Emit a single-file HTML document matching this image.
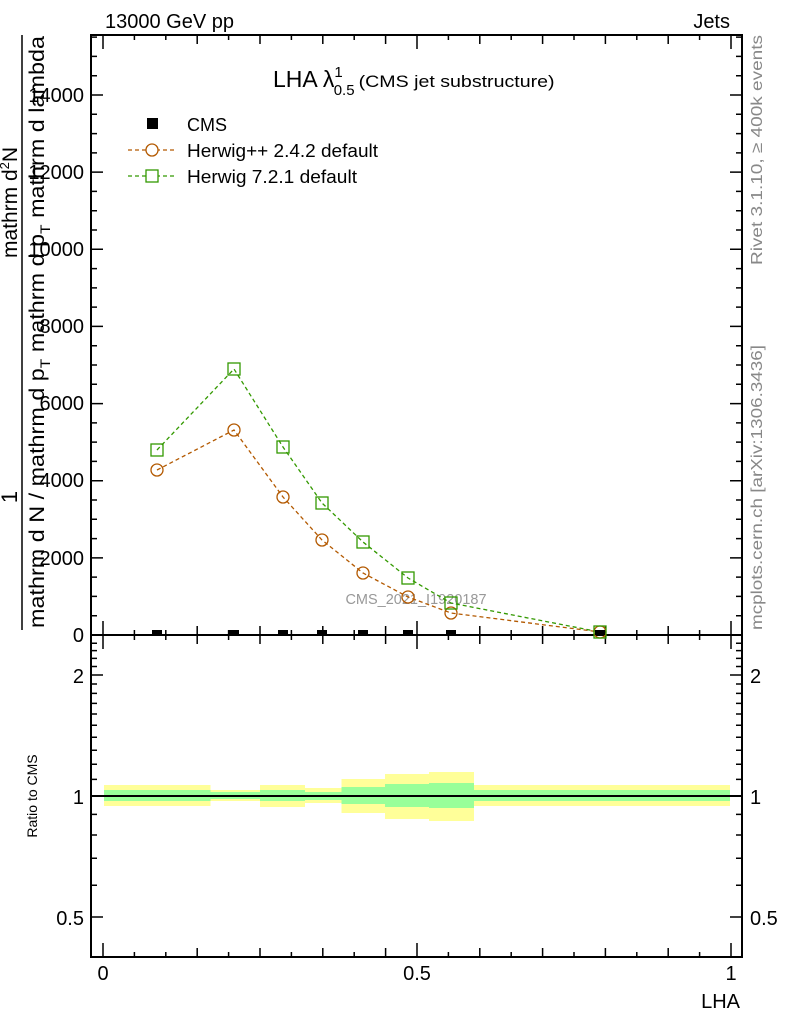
<!DOCTYPE html>
<html><head><meta charset="utf-8"><style>
html,body{margin:0;padding:0;background:#fff;}
svg{display:block;font-family:"Liberation Sans",sans-serif;}
</style></head><body>
<svg width="786" height="1024" viewBox="0 0 786 1024" xmlns="http://www.w3.org/2000/svg">
<rect width="786" height="1024" fill="#fff"/>
<text x="105" y="28" font-size="20">13000 GeV pp</text>
<text x="730" y="28" font-size="20" text-anchor="end">Jets</text>

<!-- ratio bands -->
<g>
<rect x="104" y="785" width="106.5" height="21" fill="#ffff99"/>
<rect x="210.5" y="790" width="49.5" height="11" fill="#ffff99"/>
<rect x="260" y="785" width="45" height="22" fill="#ffff99"/>
<rect x="305" y="788" width="36.5" height="15" fill="#ffff99"/>
<rect x="341.5" y="779" width="43.5" height="34" fill="#ffff99"/>
<rect x="385" y="774" width="44" height="45" fill="#ffff99"/>
<rect x="429" y="772" width="45" height="49" fill="#ffff99"/>
<rect x="474" y="785" width="256" height="21" fill="#ffff99"/>
<rect x="104" y="790" width="106.5" height="11" fill="#99ff99"/>
<rect x="210.5" y="792" width="49.5" height="7" fill="#99ff99"/>
<rect x="260" y="790" width="45" height="11" fill="#99ff99"/>
<rect x="305" y="792" width="36.5" height="8" fill="#99ff99"/>
<rect x="341.5" y="787" width="43.5" height="17" fill="#99ff99"/>
<rect x="385" y="784" width="44" height="23" fill="#99ff99"/>
<rect x="429" y="783" width="45" height="25" fill="#99ff99"/>
<rect x="474" y="790" width="256" height="11" fill="#99ff99"/>
<line x1="91" y1="796" x2="742" y2="796" stroke="#000" stroke-width="2"/>
</g>

<!-- frames -->
<rect x="91" y="35" width="651" height="600" fill="none" stroke="#000" stroke-width="2"/>
<rect x="91" y="635" width="651" height="322" fill="none" stroke="#000" stroke-width="2"/>

<!-- x ticks -->
<g stroke="#000" stroke-width="1.5" fill="none">
<path d="M103 635v-14M134.4 635v-5M165.8 635v-5M197.2 635v-9M228.6 635v-5M260 635v-9M291.4 635v-5M322.8 635v-9M354.2 635v-5M385.6 635v-9M417 635v-14M448.4 635v-5M479.8 635v-9M511.2 635v-5M542.6 635v-9M574 635v-5M605.4 635v-9M636.8 635v-5M668.2 635v-9M699.6 635v-5M731 635v-14"/>
<path d="M103 35v14M134.4 35v5M165.8 35v5M197.2 35v9M228.6 35v5M260 35v9M291.4 35v5M322.8 35v9M354.2 35v5M385.6 35v9M417 35v14M448.4 35v5M479.8 35v9M511.2 35v5M542.6 35v9M574 35v5M605.4 35v9M636.8 35v5M668.2 35v9M699.6 35v5M731 35v14"/>
<path d="M103 957v-14M134.4 957v-5M165.8 957v-5M197.2 957v-9M228.6 957v-5M260 957v-9M291.4 957v-5M322.8 957v-9M354.2 957v-5M385.6 957v-9M417 957v-14M448.4 957v-5M479.8 957v-9M511.2 957v-5M542.6 957v-9M574 957v-5M605.4 957v-9M636.8 957v-5M668.2 957v-9M699.6 957v-5M731 957v-14"/>
<path d="M103 635v14M134.4 635v5M165.8 635v5M197.2 635v9M228.6 635v5M260 635v9M291.4 635v5M322.8 635v9M354.2 635v5M385.6 635v9M417 635v14M448.4 635v5M479.8 635v9M511.2 635v5M542.6 635v9M574 635v5M605.4 635v9M636.8 635v5M668.2 635v9M699.6 635v5M731 635v14"/>
<!-- main y ticks -->
<path d="M91 615.7h6M91 596.4h6M91 577.1h6M91 557.9h12M91 538.6h6M91 519.3h6M91 500h6M91 480.7h12M91 461.4h6M91 442.1h6M91 422.9h6M91 403.6h12M91 384.3h6M91 365h6M91 345.7h6M91 326.4h12M91 307.1h6M91 287.9h6M91 268.6h6M91 249.3h12M91 230h6M91 210.7h6M91 191.4h6M91 172.1h12M91 152.9h6M91 133.6h6M91 114.3h6M91 95h12M91 75.7h6M91 56.4h6M91 37.1h6"/>
<path d="M742 615.7h-6M742 596.4h-6M742 577.1h-6M742 557.9h-12M742 538.6h-6M742 519.3h-6M742 500h-6M742 480.7h-12M742 461.4h-6M742 442.1h-6M742 422.9h-6M742 403.6h-12M742 384.3h-6M742 365h-6M742 345.7h-6M742 326.4h-12M742 307.1h-6M742 287.9h-6M742 268.6h-6M742 249.3h-12M742 230h-6M742 210.7h-6M742 191.4h-6M742 172.1h-12M742 152.9h-6M742 133.6h-6M742 114.3h-6M742 95h-12M742 75.7h-6M742 56.4h-6M742 37.1h-6"/>
<!-- ratio y ticks -->
<path d="M91 917h12M91 885.2h6M91 858.3h6M91 835h6M91 814.4h6M91 796h12M91 779.4h6M91 764.2h6M91 750.2h6M91 737.3h6M91 725.2h6M91 714h6M91 703.4h6M91 693.4h6M91 684h6M91 675h12M91 666.5h6M91 658.4h6M91 650.6h6M91 643.2h6"/>
<path d="M742 917h-12M742 885.2h-6M742 858.3h-6M742 835h-6M742 814.4h-6M742 796h-12M742 779.4h-6M742 764.2h-6M742 750.2h-6M742 737.3h-6M742 725.2h-6M742 714h-6M742 703.4h-6M742 693.4h-6M742 684h-6M742 675h-12M742 666.5h-6M742 658.4h-6M742 650.6h-6M742 643.2h-6"/>
</g>

<!-- main y labels -->
<g font-size="20" text-anchor="end">
<text x="84" y="642">0</text>
<text x="84" y="565">2000</text>
<text x="84" y="487">4000</text>
<text x="84" y="410">6000</text>
<text x="84" y="333">8000</text>
<text x="84" y="256">10000</text>
<text x="84" y="179">12000</text>
<text x="84" y="102">14000</text>
</g>
<!-- ratio labels -->
<g font-size="20">
<text x="750" y="683">2</text>
<text x="750" y="804">1</text>
<text x="750" y="925">0.5</text>
<text x="84" y="683" text-anchor="end">2</text>
<text x="84" y="804" text-anchor="end">1</text>
<text x="84" y="925" text-anchor="end">0.5</text>
</g>
<g font-size="20" text-anchor="middle">
<text x="103" y="980">0</text>
<text x="417" y="980">0.5</text>
<text x="731" y="980">1</text>
</g>
<text x="740" y="1008" font-size="20" text-anchor="end">LHA</text>
<text transform="translate(37,796) rotate(-90)" font-size="14" text-anchor="middle">Ratio to CMS</text>

<!-- y axis title -->
<text transform="translate(17,497) rotate(-90)" font-size="22" text-anchor="middle">1</text>
<line x1="22" y1="630" x2="22" y2="35" stroke="#000" stroke-width="1.5"/>
<text transform="translate(44,628) rotate(-90)" font-size="21" textLength="592" lengthAdjust="spacingAndGlyphs">mathrm d N / mathrm d p<tspan font-size="14" dy="6">T</tspan><tspan dy="-6"> mathrm d p</tspan><tspan font-size="14" dy="6">T</tspan><tspan dy="-6"> mathrm d lambda</tspan></text>
<text transform="translate(17,258) rotate(-90)" font-size="21">mathrm d<tspan font-size="13" dy="-8">2</tspan><tspan dy="8">N</tspan></text>

<!-- right texts -->
<text transform="translate(762,265) rotate(-90)" font-size="16" fill="#888" textLength="230" lengthAdjust="spacingAndGlyphs">Rivet 3.1.10, ≥ 400k events</text>
<text transform="translate(762,630) rotate(-90)" font-size="16" fill="#888" textLength="285" lengthAdjust="spacingAndGlyphs">mcplots.cern.ch [arXiv:1306.3436]</text>

<!-- title -->
<text x="273" y="87" font-size="23">LHA λ<tspan font-size="15" dy="-10">1</tspan><tspan font-size="15" dx="-9" dy="18">0.5</tspan><tspan font-size="17" dy="-8" dx="4" textLength="196" lengthAdjust="spacingAndGlyphs">(CMS jet substructure)</tspan></text>

<!-- legend -->
<rect x="147" y="118" width="11" height="11" fill="#000"/>
<text x="187" y="131" font-size="18">CMS</text>
<line x1="128" y1="150" x2="175" y2="150" stroke="#b35900" stroke-width="1.2" stroke-dasharray="4,3"/>
<circle cx="152" cy="150" r="6" fill="#fff" stroke="#b35900" stroke-width="1.3"/>
<text x="187" y="157" font-size="18" textLength="191" lengthAdjust="spacingAndGlyphs">Herwig++ 2.4.2 default</text>
<line x1="128" y1="176" x2="175" y2="176" stroke="#339900" stroke-width="1.2" stroke-dasharray="4,3"/>
<rect x="146" y="170" width="12" height="12" fill="#fff" stroke="#339900" stroke-width="1.3"/>
<text x="187" y="183" font-size="18" textLength="170" lengthAdjust="spacingAndGlyphs">Herwig 7.2.1 default</text>

<text x="416" y="604" font-size="14.5" fill="#999" text-anchor="middle">CMS_2021_I1920187</text>

<!-- series -->
<polyline points="157,470 234,430 283,497 322,540 363,573 408,597 451,613 600,632" fill="none" stroke="#b35900" stroke-width="1.3" stroke-dasharray="4,3"/>
<polyline points="157,450 234,369 283,447 322,503 363,542 408,578 451,603 600,632" fill="none" stroke="#339900" stroke-width="1.3" stroke-dasharray="4,3"/>
<g fill="none" stroke="#b35900" stroke-width="1.3">
<circle cx="157" cy="470" r="6"/><circle cx="234" cy="430" r="6"/><circle cx="283" cy="497" r="6"/><circle cx="322" cy="540" r="6"/><circle cx="363" cy="573" r="6"/><circle cx="408" cy="597" r="6"/><circle cx="451" cy="613" r="6"/><circle cx="600" cy="632" r="6"/>
</g>
<g fill="none" stroke="#339900" stroke-width="1.3">
<rect x="151" y="444" width="12" height="12"/><rect x="228" y="363" width="12" height="12"/><rect x="277" y="441" width="12" height="12"/><rect x="316" y="497" width="12" height="12"/><rect x="357" y="536" width="12" height="12"/><rect x="402" y="572" width="12" height="12"/><rect x="445" y="597" width="12" height="12"/><rect x="594" y="626" width="12" height="12"/>
</g>
<g fill="#000">
<rect x="152" y="630" width="10" height="5"/><rect x="229" y="630" width="10" height="5"/><rect x="278" y="630" width="10" height="5"/><rect x="317" y="630" width="10" height="5"/><rect x="358" y="630" width="10" height="5"/><rect x="403" y="630" width="10" height="5"/><rect x="446" y="630" width="10" height="5"/><rect x="595" y="630" width="10" height="5"/>
</g>
</svg>
</body></html>
